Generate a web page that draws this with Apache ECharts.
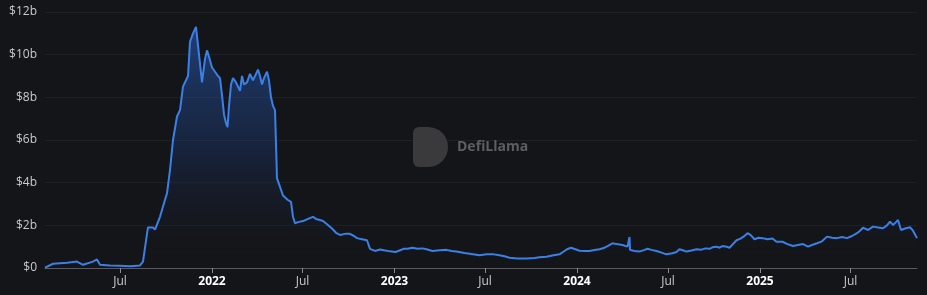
<!DOCTYPE html>
<html>
<head>
<meta charset="utf-8">
<script src="https://cdn.jsdelivr.net/npm/echarts@6/dist/echarts.min.js"></script>
<style>
html,body{margin:0;padding:0;background:#141518;}
#chart{width:927px;height:295px;}
</style>
</head>
<body>
<div id="chart"></div>
<script>
// TVL dates and values (billions USD)
const dates = [
'2021-02-01','2021-02-17','2021-03-17','2021-04-06','2021-04-18','2021-05-08','2021-05-16','2021-05-22','2021-06-11','2021-07-01','2021-07-21','2021-08-10','2021-08-16','2021-08-24','2021-08-26','2021-09-05','2021-09-09','2021-09-19','2021-09-29','2021-10-03','2021-10-09','2021-10-15','2021-10-23','2021-10-29','2021-11-04','2021-11-10','2021-11-14','2021-11-18','2021-11-24','2021-11-30','2021-12-02','2021-12-06','2021-12-12','2021-12-18','2021-12-22','2021-12-26',
'2022-01-01','2022-01-07','2022-01-13','2022-01-17','2022-01-21','2022-01-25','2022-01-29','2022-02-01','2022-02-04','2022-02-08','2022-02-12','2022-02-18','2022-02-26','2022-03-02','2022-03-06','2022-03-12','2022-03-18','2022-03-24','2022-03-30','2022-04-03','2022-04-07','2022-04-11','2022-04-15','2022-04-21','2022-04-25','2022-04-29','2022-05-03','2022-05-07','2022-05-11','2022-05-17','2022-05-23','2022-06-01','2022-06-08','2022-06-12','2022-06-16','2022-06-22','2022-07-02','2022-07-12','2022-07-22','2022-07-28','2022-08-05','2022-08-11','2022-08-19','2022-08-29','2022-09-06','2022-09-14','2022-09-24','2022-10-04','2022-10-12','2022-10-18','2022-10-28','2022-11-07','2022-11-13','2022-11-23','2022-12-03','2022-12-11','2022-12-23',
'2023-01-03','2023-01-11','2023-01-19','2023-01-27','2023-02-06','2023-02-16','2023-02-26','2023-03-06','2023-03-18','2023-04-01','2023-04-15','2023-04-25','2023-05-05','2023-05-21','2023-06-04','2023-06-20','2023-07-04','2023-07-16','2023-07-30','2023-08-09','2023-08-19','2023-09-04','2023-09-22','2023-10-08','2023-10-18','2023-11-01','2023-11-15','2023-11-27','2023-12-04','2023-12-12','2023-12-20','2023-12-26',
'2024-01-06','2024-01-16','2024-01-26','2024-02-05','2024-02-15','2024-02-25','2024-03-04','2024-03-12','2024-03-16','2024-03-20','2024-03-26','2024-04-01','2024-04-11','2024-04-14','2024-04-15','2024-04-16','2024-04-25','2024-05-05','2024-05-15','2024-05-21','2024-05-29','2024-06-08','2024-06-18','2024-06-28','2024-07-10','2024-07-18','2024-07-24','2024-08-01','2024-08-07','2024-08-17','2024-08-27','2024-09-06','2024-09-14','2024-09-22','2024-09-28','2024-10-06','2024-10-12','2024-10-18','2024-10-26','2024-11-01','2024-11-09','2024-11-15','2024-11-23','2024-11-29','2024-12-07','2024-12-13','2024-12-21','2024-12-29',
'2025-01-06','2025-01-16','2025-01-26','2025-02-03','2025-02-15','2025-02-25','2025-03-08','2025-03-18','2025-03-28','2025-04-07','2025-04-15','2025-04-25','2025-05-05','2025-05-15','2025-05-25','2025-06-04','2025-06-14','2025-06-24','2025-07-04','2025-07-14','2025-07-20','2025-07-26','2025-08-05','2025-08-15','2025-08-25','2025-09-04','2025-09-12','2025-09-18','2025-09-24','2025-09-30','2025-10-04','2025-10-10','2025-10-18','2025-10-28','2025-11-03','2025-11-11'
];
const tvl = [
0.02,0.2,0.25,0.3,0.15,0.3,0.4,0.15,0.12,0.1,0.08,0.12,0.3,1.6,1.9,1.9,1.8,2.4,3.2,3.5,4.6,6.0,7.1,7.4,8.5,8.8,9.0,10.6,11.0,11.3,11.3,10.0,8.7,9.8,10.2,9.9,
9.4,9.2,9.0,8.9,8.1,7.2,6.8,6.6,7.6,8.6,8.9,8.7,8.3,9.0,8.6,8.7,9.1,8.8,9.1,9.3,9.0,8.6,8.9,9.2,8.8,8.0,7.6,7.4,4.2,3.8,3.4,3.2,3.1,2.4,2.1,2.15,2.2,2.3,2.4,2.3,2.25,2.2,2.05,1.85,1.65,1.55,1.6,1.6,1.5,1.4,1.35,1.3,0.9,0.8,0.87,0.83,0.78,
0.75,0.82,0.9,0.9,0.95,0.9,0.92,0.88,0.8,0.83,0.85,0.8,0.77,0.7,0.66,0.6,0.64,0.65,0.6,0.55,0.48,0.45,0.45,0.47,0.5,0.53,0.6,0.64,0.75,0.88,0.95,0.9,
0.81,0.8,0.8,0.84,0.88,0.95,1.05,1.16,1.19,1.12,1.1,1.08,1.0,1.0,1.45,0.85,0.8,0.77,0.85,0.9,0.85,0.8,0.72,0.64,0.69,0.75,0.88,0.82,0.77,0.82,0.88,0.86,0.92,0.9,0.97,1.0,0.95,1.03,1.0,0.95,1.15,1.3,1.38,1.47,1.63,1.55,1.35,1.42,
1.4,1.35,1.38,1.23,1.23,1.12,1.03,1.08,1.12,1.0,1.08,1.16,1.25,1.47,1.42,1.4,1.45,1.4,1.5,1.63,1.75,1.89,1.78,1.94,1.9,1.86,2.0,2.17,2.02,2.15,2.25,1.78,1.85,1.91,1.75,1.4
];
const tickDates = ['2021-07-01','2022-01-01','2022-07-01','2023-01-01','2023-07-01','2024-01-01','2024-07-01','2025-01-01','2025-07-01'];
const tickLabels = ['Jul','2022','Jul','2023','Jul','2024','Jul','2025','Jul'];
const xStart = '2021-02-01';
const xEnd = '2025-11-11';

function ts(s){ return new Date(s + 'T00:00:00Z').getTime(); }
const seriesData = dates.map((d,i)=>[ts(d), tvl[i]]);
const tickTs = tickDates.map(ts);

const chart = echarts.init(document.getElementById('chart'), null, {renderer:'canvas'});
chart.setOption({
  backgroundColor:'#141518',
  animation:false,
  grid:{left:45,right:10,top:12,bottom:27,containLabel:false},
  graphic:[
    {type:'rect', left:413, top:127, shape:{width:35,height:40,r:[6,20,20,6]}, style:{fill:'#3a3a3c'}, z:1, silent:true},
    {type:'text', left:457, top:140, style:{text:'DefiLlama', fill:'#5d5e62', font:'bold 14px "Open Sans", sans-serif'}, z:1, silent:true}
  ],
  xAxis:{
    type:'value',
    min:ts(xStart), max:ts(xEnd),
    axisLine:{show:true,onZero:false,lineStyle:{color:'#5a5b60',width:1}},
    axisTick:{show:true,customValues:tickTs,length:5,lineStyle:{color:'#8a8b90'}},
    axisLabel:{
      customValues:tickTs,
      margin:8,
      color:'#c9cacf',
      fontSize:12,
      fontFamily:'"Open Sans", sans-serif',
      formatter:function(v){
        let idx=-1, best=Infinity;
        tickTs.forEach((t,i)=>{const d=Math.abs(t-v); if(d<best){best=d;idx=i;}});
        const l = tickLabels[idx];
        return /^\d{4}$/.test(l) ? '{y|'+l+'}' : l;
      },
      rich:{y:{fontWeight:'bold',color:'#ffffff',fontSize:12,fontFamily:'"Open Sans", sans-serif'}}
    },
    splitLine:{show:false}
  },
  yAxis:{
    type:'value', min:0, max:12, interval:2,
    axisLine:{show:false}, axisTick:{show:false},
    axisLabel:{color:'#c9cacf',fontSize:12,margin:8,fontFamily:'"Open Sans", sans-serif',
      formatter:function(v){return v===0?'$0':'$'+v+'b';}},
    splitLine:{show:true,lineStyle:{color:'#1f2024',width:1}}
  },
  series:[{
    type:'line',
    data:seriesData,
    showSymbol:false,
    z:3,
    lineStyle:{color:'#3a80e6',width:2},
    itemStyle:{color:'#3a80e6'},
    areaStyle:{color:new echarts.graphic.LinearGradient(0,0,0,1,[
      {offset:0,color:'rgba(40,95,190,0.8)'},
      {offset:0.5,color:'rgba(30,60,120,0.55)'},
      {offset:1,color:'rgba(20,21,24,0.05)'}
    ])}
  }]
});
</script>
</body>
</html>
